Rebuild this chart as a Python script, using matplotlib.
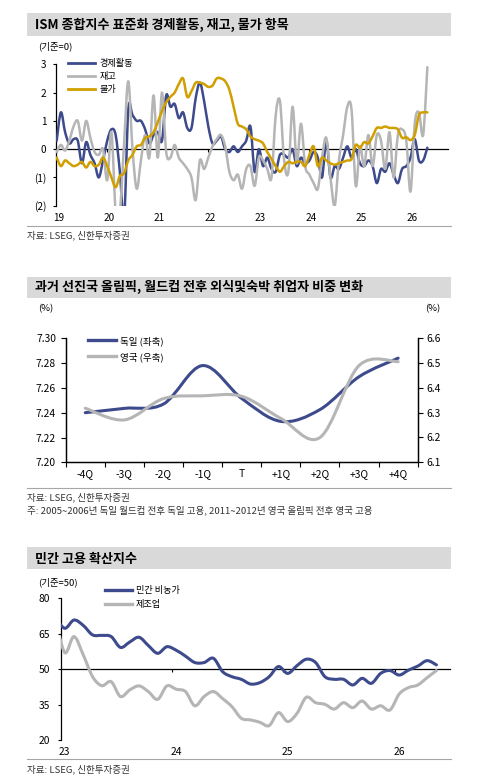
import matplotlib
matplotlib.use('Agg')
import matplotlib.pyplot as plt
import numpy as np
from matplotlib.path import Path
from matplotlib.patches import PathPatch, Rectangle
from matplotlib.lines import Line2D
from matplotlib.ticker import FuncFormatter

plt.rcParams['font.family'] = ['Noto Sans CJK KR', 'DejaVu Sans']

# ---------------- DATA ----------------
# Chart 1: ISM standardized sub-indices, monthly Jan 2019 - May 2026
ism_year_labels = ['19', '20', '21', '22', '23', '24', '25', '26']
ism_activity = [0.3, 1.3, 0.6, 0.2, 0.35, 0.3, -0.5, 0.25, -0.2, -0.5,
                -1.0, -0.4, 0.3, 0.7, 0.5, -0.8, -2.5, 1.4, 1.2, 1.0,
                1.0, 0.7, 0.2, 0.5, 0.6, 0.3, 1.9, 1.5, 1.6, 1.1,
                1.3, 0.75, 0.75, 1.8, 2.35, 1.7, 0.8, 0.2, 0.3, 0.45,
                0.0, -0.1, 0.1, -0.1, 0.1, 0.3, 0.8, -0.8, 0.0, -0.6,
                -0.3, -0.7, -0.8, -0.2, -0.2, -0.3, 0.0, -0.6, -0.3, -0.5,
                -0.4, -0.1, -0.3, -1.0, 0.3, -1.0, -0.6, -0.7, -0.3, 0.1,
                -0.3, 0.0, -0.5, -0.6, -0.4, -0.6, -1.2, -0.7, -0.8, -0.5,
                -0.9, -1.2, -0.7, -0.6, -0.3, 0.35, -0.4, -0.4, 0.05]
ism_inventory = [-0.1, 0.15, -0.05, 0.3, 0.8, 1.0, 0.3, 1.0, 0.4, -0.1,
                 -0.2, 0.0, -1.1, 0.6, -2.2, -2.2, 0.2, 2.4, 0.0, -1.4,
                 -0.4, 0.5, -0.3, 1.9, -0.3, 2.0, -0.1, -0.3, 0.15, -0.3,
                 -0.5, -0.7, -1.0, -1.8, -0.4, -0.7, -0.3, 0.1, 0.35, 0.5,
                 0.1, -0.8, -1.1, -0.9, -1.4, -0.7, -0.6, -1.3, -0.3, -0.4,
                 -0.7, -1.0, 1.2, 1.7, -0.4, -0.8, 1.5, -0.5, 0.9, -0.6,
                 -0.9, -1.2, -1.4, -0.3, 0.4, -1.0, -2.0, -0.4, 0.5, 1.5,
                 1.4, -1.3, 0.1, -0.6, 0.5, -0.6, 0.5, 0.3, -0.7, 0.6,
                 -1.0, 0.5, 0.7, 0.3, -1.5, 0.9, 1.3, 0.5, 2.9]
ism_prices = [-0.3, -0.6, -0.4, -0.5, -0.6, -0.55, -0.45, -0.65, -0.45, -0.6,
              -0.55, -0.3, -0.6, -1.0, -1.35, -0.95, -0.85, -0.4, -0.2, 0.1,
              0.15, 0.4, 0.45, 0.6, 0.95, 1.35, 1.65, 1.85, 2.0, 2.3,
              2.5, 1.85, 2.05, 2.35, 2.35, 2.3, 2.2, 2.25, 2.5, 2.5,
              2.4, 2.1, 1.5, 0.9, 0.8, 0.7, 0.45, 0.35, 0.3, 0.2,
              -0.1, -0.35, -0.6, -0.8, -0.6, -0.45, -0.5, -0.45, -0.45, -0.6,
              -0.2, 0.1, -0.6, -0.3, -0.4, -0.5, -0.55, -0.5, -0.45, -0.4,
              -0.35, 0.15, 0.05, 0.25, 0.2, 0.45, 0.75, 0.75, 0.8, 0.75,
              0.75, 0.7, 0.4, 0.42, 0.32, 0.5, 1.2, 1.3, 1.3]

# Chart 2: share of food/accommodation employment around events
event_quarters = ['-4Q', '-3Q', '-2Q', '-1Q', 'T', '+1Q', '+2Q', '+3Q', '+4Q']
germany_share = [7.240, 7.2435, 7.247, 7.278, 7.2515, 7.233, 7.2425, 7.269, 7.284]
uk_share = [6.318, 6.271, 6.357, 6.368, 6.366, 6.277, 6.200, 6.490, 6.506]

# Chart 3: private employment diffusion index, monthly Dec 2022 - May 2026
diff_year_labels = ['23', '24', '25', '26']
private_nonfarm = [72, 67.3, 70.8, 68.5, 64.5, 64.3, 63.8, 59.2, 61.5, 63.5,
                   60.0, 56.7, 59.5, 58.0, 55.5, 52.8, 52.8, 54.6, 48.9, 46.8,
                   45.7, 43.7, 44.3, 46.8, 51.1, 48.2, 51.5, 54.2, 52.8, 46.8,
                   45.7, 45.7, 43.3, 46.1, 44.0, 48.2, 49.4, 47.5, 49.6, 51.3,
                   53.6, 51.8]
manufacturing = [72, 57, 63.8, 56, 46.8, 43, 44.7, 38.4, 41.2, 42.9,
                 40.5, 37.2, 42.9, 41.5, 40.5, 34.5, 38.4, 40.5, 37.5, 34.1,
                 29.2, 28.5, 27.5, 26.1, 31.6, 27.8, 31.3, 38.1, 35.8, 35.1,
                 33.1, 35.8, 33.7, 36.5, 33.1, 34.5, 32.7, 39.5, 42.2, 43.3,
                 46.4, 49.4]

# ---------------- STYLE ----------------
BLUE = '#3d4b8c'
GRAY = '#b5b5b5'
GOLD = '#d19f00'
BAR = '#d9d9d9'

W, H = 489, 783
fig = plt.figure(figsize=(W / 100, H / 100), dpi=100)


def fx(px):
    return px / W


def fy(py):
    return 1 - py / H


def axrect(l, t, r, b):
    return [fx(l), fy(b), (r - l) / W, (b - t) / H]


def smooth(ax, x, y, **kw):
    """Draw a smoothed (Excel-like Bezier) line through the data points."""
    x = np.asarray(x, float)
    y = np.asarray(y, float)
    n = len(x)
    verts = [(x[0], y[0])]
    codes = [Path.MOVETO]
    for i in range(n - 1):
        p0 = np.array([x[i - 1], y[i - 1]]) if i > 0 else np.array([x[i], y[i]])
        p1 = np.array([x[i], y[i]])
        p2 = np.array([x[i + 1], y[i + 1]])
        p3 = np.array([x[i + 2], y[i + 2]]) if i + 2 < n else p2
        c1 = p1 + (p2 - p0) / 6.0
        c2 = p2 - (p3 - p1) / 6.0
        verts += [tuple(c1), tuple(c2), tuple(p2)]
        codes += [Path.CURVE4] * 3
    patch = PathPatch(Path(verts, codes), fill=False, capstyle='round',
                      joinstyle='round', **kw)
    ax.add_patch(patch)
    return patch


def title_bar(top, bottom, text, ytext):
    fig.patches.append(Rectangle((fx(27), fy(bottom)), (451 - 27) / W,
                                 (bottom - top) / H, transform=fig.transFigure,
                                 facecolor=BAR, edgecolor='none', zorder=0))
    fig.text(fx(35), fy(ytext), text, fontsize=9.4, fontweight='bold',
             va='center', ha='left')


def separator(y):
    fig.add_artist(Line2D([fx(27), fx(451)], [fy(y), fy(y)],
                          color='#a6a6a6', lw=0.8))


SRC = '자료: LSEG, 신한투자증권'

# ================= CHART 1 =================
title_bar(13.3, 35.7, 'ISM 종합지수 표준화 경제활동, 재고, 물가 항목', 25)
fig.text(fx(38), fy(46.7), '(기준=0)', fontsize=6.8, va='center', ha='left')

ax1 = fig.add_axes(axrect(56, 64.3, 448, 205.7))
x1 = np.arange(len(ism_activity))
smooth(ax1, x1, ism_activity, edgecolor=BLUE, lw=1.8, zorder=3)
smooth(ax1, x1, ism_inventory, edgecolor=GRAY, lw=1.8, zorder=3)
smooth(ax1, x1, ism_prices, edgecolor=GOLD, lw=1.8, zorder=3)
ax1.set_xlim(-0.16, 92.9)
ax1.set_ylim(-2, 3)
for s in ['top', 'right']:
    ax1.spines[s].set_visible(False)
ax1.spines['bottom'].set_position(('data', 0))
ax1.spines['bottom'].set_linewidth(0.9)
ax1.spines['bottom'].set_zorder(2)
ax1.spines['left'].set_linewidth(0.9)
ax1.set_yticks([-2, -1, 0, 1, 2, 3])
ax1.yaxis.set_major_formatter(FuncFormatter(
    lambda v, p: f'({abs(int(round(v)))})' if v < 0 else f'{int(round(v))}'))
ax1.tick_params(axis='y', length=2.5, width=0.8, pad=4.5, labelsize=7.2)
ax1.set_xticks(np.arange(len(ism_year_labels)) * 12)
ax1.tick_params(axis='x', length=2.5, width=0.8, labelbottom=False)
sec1 = ax1.secondary_xaxis('bottom')
sec1.spines['bottom'].set_visible(False)
sec1.set_xticks(np.arange(len(ism_year_labels)) * 12 + 0.4, labels=ism_year_labels)
sec1.tick_params(length=0, pad=5, labelsize=7.2)

h1 = [Line2D([], [], color=BLUE, lw=2.0), Line2D([], [], color=GRAY, lw=2.0),
      Line2D([], [], color=GOLD, lw=2.0)]
ax1.legend(h1, ['경제활동', '재고', '물가'], loc='upper left',
           bbox_to_anchor=(fx(68), fy(59)), bbox_transform=fig.transFigure,
           frameon=False, fontsize=6.6, handlelength=2.9, handletextpad=0.5,
           labelspacing=0.42, borderpad=0, borderaxespad=0)

separator(225.5)
fig.text(fx(27), fy(235), SRC, fontsize=6.9, va='center', ha='left', color='#333333')

# ================= CHART 2 =================
title_bar(276.7, 297.7, '과거 선진국 올림픽, 월드컵 전후 외식및숙박 취업자 비중 변화', 287.3)
fig.text(fx(46), fy(309), '(%)', fontsize=6.9, va='center', ha='center')
fig.text(fx(433), fy(309), '(%)', fontsize=6.9, va='center', ha='center')

ax2 = fig.add_axes(axrect(65.7, 338.3, 417.7, 462.3))
ax2r = ax2.twinx()
x2 = np.arange(len(event_quarters))
smooth(ax2, x2, germany_share, edgecolor=BLUE, lw=2.2, zorder=3)
smooth(ax2r, x2, uk_share, edgecolor=GRAY, lw=2.2, zorder=3)
ax2.set_xlim(-0.5, len(event_quarters) - 0.5)
ax2.set_ylim(7.20, 7.30)
ax2r.set_ylim(6.1, 6.6)
for a in (ax2, ax2r):
    a.spines['top'].set_visible(False)
    for s in ['left', 'right', 'bottom']:
        a.spines[s].set_linewidth(0.9)
ax2.set_yticks(np.round(np.arange(7.20, 7.301, 0.02), 2))
ax2.yaxis.set_major_formatter(FuncFormatter(lambda v, p: f'{v:.2f}'))
ax2r.set_yticks(np.round(np.arange(6.1, 6.61, 0.1), 1))
ax2r.yaxis.set_major_formatter(FuncFormatter(lambda v, p: f'{v:.1f}'))
ax2.tick_params(axis='y', length=3.5, width=0.8, pad=3.5, labelsize=7.4)
ax2r.tick_params(axis='y', length=3.5, width=0.8, pad=2.5, labelsize=7.4)
ax2.set_xticks(x2, labels=event_quarters)
ax2.tick_params(axis='x', which='major', length=0, pad=5, labelsize=7.4)
ax2.set_xticks(np.arange(-0.5, len(event_quarters), 1), minor=True)
ax2.tick_params(axis='x', which='minor', length=3.5, width=0.8)

h2 = [Line2D([], [], color=BLUE, lw=2.4), Line2D([], [], color=GRAY, lw=2.4)]
ax2r.legend(h2, ['독일 (좌축)', '영국 (우축)'], loc='upper left',
            bbox_to_anchor=(fx(88), fy(336)), bbox_transform=fig.transFigure,
            frameon=False, fontsize=6.9, handlelength=2.9, handletextpad=0.4,
            labelspacing=0.65, borderpad=0, borderaxespad=0)

separator(488.3)
fig.text(fx(27), fy(497.7), SRC, fontsize=6.9, va='center', ha='left', color='#333333')
fig.text(fx(27), fy(510.7),
         '주: 2005~2006년 독일 월드컵 전후 독일 고용, 2011~2012년 영국 올림픽 전후 영국 고용',
         fontsize=6.9, va='center', ha='left', color='#333333')

# ================= CHART 3 =================
title_bar(546.7, 569.3, '민간 고용 확산지수', 559)
fig.text(fx(38), fy(582.3), '(기준=50)', fontsize=6.8, va='center', ha='left')

ax3 = fig.add_axes(axrect(60.7, 598.3, 450, 740))
x3 = np.arange(len(private_nonfarm)) - 1
smooth(ax3, x3, private_nonfarm, edgecolor=BLUE, lw=2.2, zorder=3)
smooth(ax3, x3, manufacturing, edgecolor=GRAY, lw=2.2, zorder=3)
ax3.set_xlim(-0.43, 41.46)
ax3.set_ylim(20, 80)
for s in ['top', 'right']:
    ax3.spines[s].set_visible(False)
ax3.spines['bottom'].set_position(('data', 50))
ax3.spines['bottom'].set_linewidth(0.9)
ax3.spines['bottom'].set_zorder(2)
ax3.spines['left'].set_linewidth(0.9)
ax3.set_yticks([20, 35, 50, 65, 80])
ax3.tick_params(axis='y', length=2.5, width=0.8, pad=5, labelsize=7.4)
ax3.set_xticks(np.arange(1, len(diff_year_labels)) * 12 - 0.5)
ax3.tick_params(axis='x', length=2.5, width=0.8, labelbottom=False)
sec3 = ax3.secondary_xaxis('bottom')
sec3.spines['bottom'].set_visible(False)
sec3.set_xticks(np.arange(len(diff_year_labels)) * 12, labels=diff_year_labels)
sec3.tick_params(length=0, pad=5, labelsize=7.4)

h3 = [Line2D([], [], color=BLUE, lw=2.4), Line2D([], [], color=GRAY, lw=2.4)]
ax3.legend(h3, ['민간 비농가', '제조업'], loc='upper left',
           bbox_to_anchor=(fx(105), fy(586)), bbox_transform=fig.transFigure,
           frameon=False, fontsize=6.6, handlelength=2.9, handletextpad=0.45,
           labelspacing=0.55, borderpad=0, borderaxespad=0)

separator(759)
fig.text(fx(27), fy(769.3), SRC, fontsize=6.9, va='center', ha='left', color='#333333')

fig.savefig('out.png', dpi=100)
